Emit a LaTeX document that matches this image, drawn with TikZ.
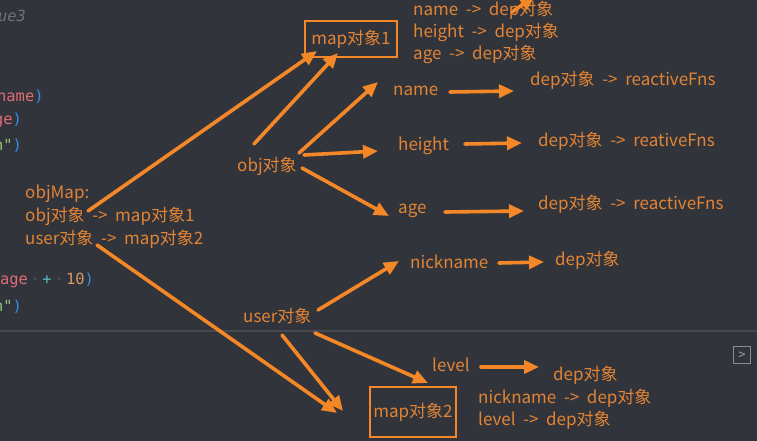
\documentclass[tikz,border=0pt]{standalone}
\usepackage{fontspec}
\setmainfont{Noto Sans CJK SC}[WordSpace=2]
\newfontfamily\codefont{DejaVu Sans Mono}
\usetikzlibrary{arrows.meta}
\definecolor{bg}{RGB}{50,52,60}
\definecolor{sepc}{RGB}{72,74,82}
\definecolor{ortext}{RGB}{226,132,52}
\definecolor{orline}{RGB}{244,136,40}
\definecolor{cgray}{RGB}{110,114,124}
\definecolor{cred}{RGB}{224,108,117}
\definecolor{cblue}{RGB}{58,140,230}
\definecolor{cgreen}{RGB}{152,195,121}
\definecolor{cnum}{RGB}{209,154,102}
\definecolor{ccyan}{RGB}{86,182,194}
\definecolor{cws}{RGB}{80,84,94}
\tikzset{
  lbl/.style={text=ortext,font=\fontsize{17}{20}\selectfont,inner sep=0pt,anchor=west},
  code/.style={font=\codefont\fontsize{15.4}{18}\selectfont,inner sep=0pt,anchor=west},
  arr/.style={draw=orline,line width=3.6pt,line cap=round,-{Triangle[length=15pt,width=13pt]}},
  mapbox/.style={draw=orline,line width=1.6pt,minimum height=36pt,inner sep=0pt,text=ortext,font=\fontsize{17}{20}\selectfont}
}
\begin{document}
\begin{tikzpicture}[x=1pt,y=-1pt]
\fill[bg] (0,0) rectangle (757,441);
\useasboundingbox (0,0) rectangle (757,441);
\draw[sepc,line width=1.2pt] (0,331) -- (757,331);
% code fragments
\node[code,text=cgray,font=\codefont\itshape\fontsize{15.4}{18}\selectfont] (c1) at (-2,16) {ue3};
\node[code] (c2) at (-3,97) {\textcolor{cred}{name}\textcolor{cblue}{)}};
\node[code] (c3) at (-6,120) {\textcolor{cred}{ge}\textcolor{cblue}{)}};
\node[code] (c4) at (-6,146) {\textcolor{cgreen}{n"}\textcolor{cblue}{)}};
\node[code] (c5) at (0,280) {\textcolor{cred}{age}\textcolor{cws}{\,·\,}\textcolor{ccyan}{+}\textcolor{cws}{\,·\,}\textcolor{cnum}{10}\textcolor{cblue}{)}};
\node[code] (c6) at (-6,307) {\textcolor{cgreen}{n"}\textcolor{cblue}{)}};
% icon
\node[draw=cgray!80!white,line width=1pt,minimum size=17pt,inner sep=0pt,text=cgray!70!white,font=\codefont\fontsize{12}{12}\selectfont] (icon) at (742,355) {>};
% map boxes
\node[mapbox,minimum width=92pt] (m1) at (351,39) {map对象1};
\node[mapbox,minimum width=86pt,minimum height=50pt] (m2) at (413,412) {map对象2};
% labels
\node[lbl] (t1) at (413,10) {name -> dep对象};
\node[lbl] (t2) at (413,32) {height -> dep对象};
\node[lbl] (t3) at (413,54) {age -> dep对象};
\node[lbl] (name) at (393,91) {name};
\node[lbl] (dn) at (530,80) {dep对象 -> reactiveFns};
\node[lbl] (height) at (398,146) {height};
\node[lbl] (dh) at (538,141) {dep对象 -> reativeFns};
\node[lbl] (age) at (398,211) {age};
\node[lbl] (da) at (538,204) {dep对象 -> reactiveFns};
\node[lbl] (obj) at (237,166) {obj对象};
\node[lbl] (om1) at (25,194) {objMap:};
\node[lbl] (om2) at (25,216) {obj对象 -> map对象1};
\node[lbl] (om3) at (25,239) {user对象 -> map对象2};
\node[lbl] (nick) at (410,262) {nickname};
\node[lbl] (dnick) at (555,260) {dep对象};
\node[lbl] (user) at (243,316) {user对象};
\node[lbl] (level) at (432,365) {level};
\node[lbl] (dlevel) at (553,375) {dep对象};
\node[lbl] (u1) at (478,398) {nickname -> dep对象};
\node[lbl] (u2) at (478,420) {level -> dep对象};
% free endpoints
\coordinate (a1s) at (88,211);
\coordinate (a1e) at (317,51);
\coordinate (a2s) at (254,144);
\coordinate (a2e) at (338,53);
\coordinate (a3s) at (299,153);
\coordinate (a3e) at (378,82);
\coordinate (a4s) at (304,155);
\coordinate (a4e) at (378,151);
\coordinate (a5s) at (302,168);
\coordinate (a5e) at (389,216);
\coordinate (a6s) at (97,245);
\coordinate (a6e) at (337,413);
\coordinate (a7s) at (282,335);
\coordinate (a7e) at (343,411);
\coordinate (a8s) at (318,310);
\coordinate (a8e) at (399,261);
\coordinate (a9s) at (315,333);
\coordinate (a9e) at (428,383);
\coordinate (b1s) at (450,92);
\coordinate (b1e) at (514,91);
\coordinate (b2s) at (465,144);
\coordinate (b2e) at (522,143);
\coordinate (b3s) at (445,212);
\coordinate (b3e) at (524,211);
\coordinate (b4s) at (499,263);
\coordinate (b4e) at (544,262);
\coordinate (b5s) at (481,367);
\coordinate (b5e) at (539,367);
\coordinate (b6s) at (512,12);
\coordinate (b6e) at (535,-4);
\begin{scope}
\clip (0,0) rectangle (757,441);
\foreach \s/\e in {a1s/a1e,a2s/a2e,a3s/a3e,a4s/a4e,a5s/a5e,a6s/a6e,a7s/a7e,a8s/a8e,a9s/a9e,b1s/b1e,b2s/b2e,b3s/b3e,b4s/b4e,b5s/b5e}
  \draw[arr] (\s) -- (\e);
\draw[arr] (b6s) -- (b6e);
\end{scope}
\end{tikzpicture}
\end{document}
